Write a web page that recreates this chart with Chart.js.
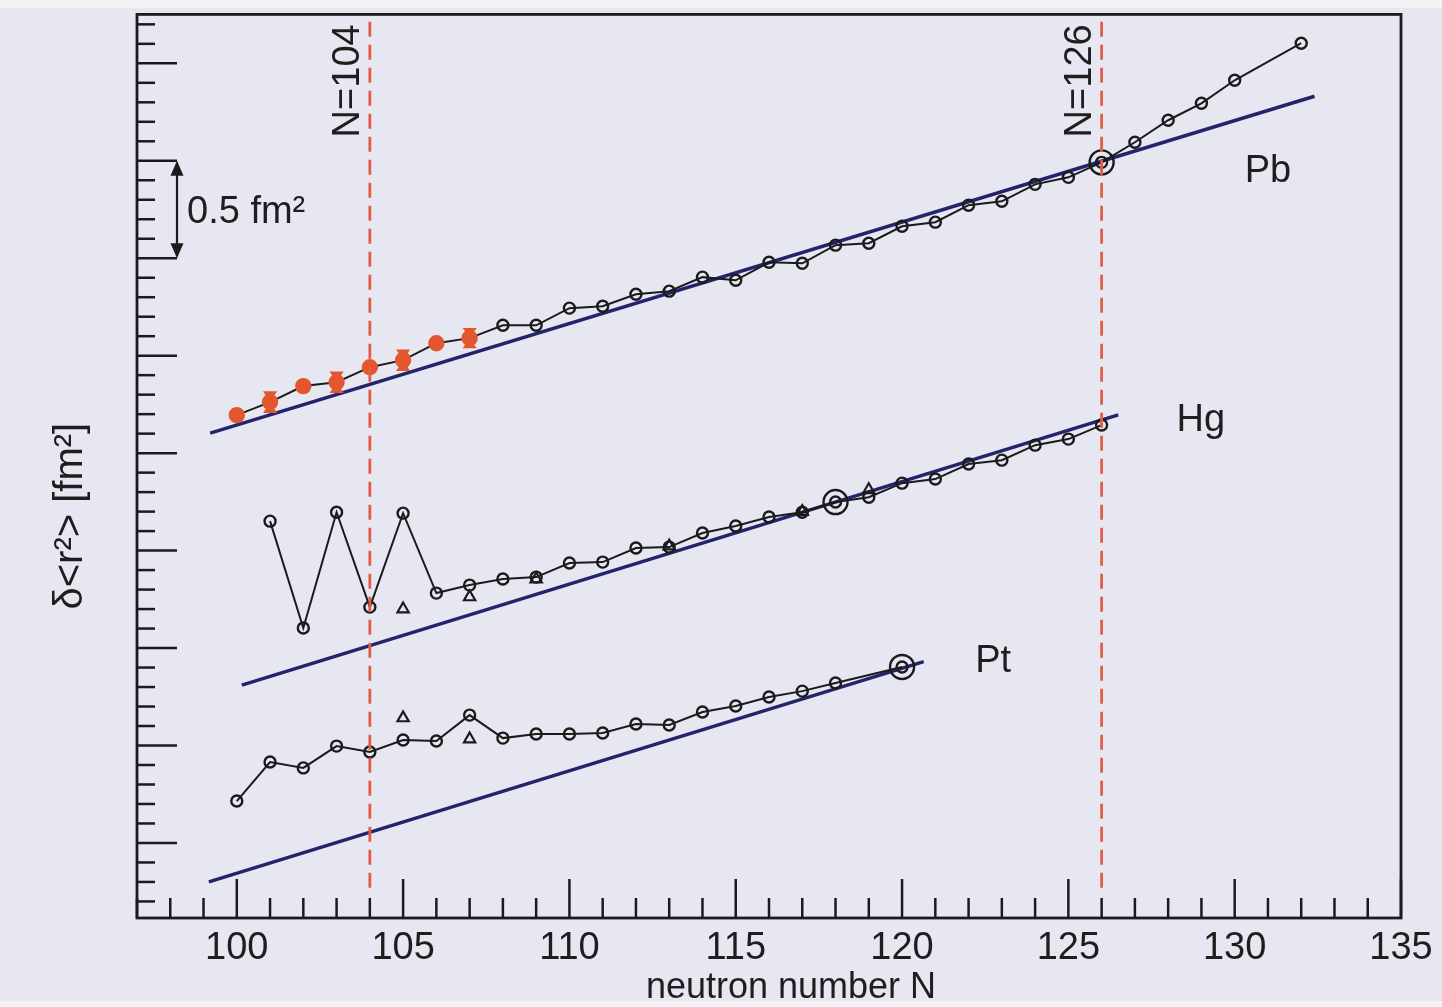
<!DOCTYPE html>
<html>
<head>
<meta charset="utf-8">
<script src="https://cdn.jsdelivr.net/npm/chart.js@4.4.1/dist/chart.umd.min.js"></script>
<style>
html,body{margin:0;padding:0;background:#e7e7f1;}
canvas{display:block;}
</style>
</head>
<body>
<canvas id="c" width="1442" height="1007"></canvas>
<script>
// ---------------- data (δ<r²>, fm², arbitrary vertical offsets per element) ----------------
const xTickValues = [100, 105, 110, 115, 120, 125, 130, 135];

const pbN = [100,101,102,103,104,105,106,107,108,109,110,111,112,113,114,115,116,117,118,119,120,121,122,123,124,125,126,127,128,129,130,132];
const pbR = [2.195,2.262,2.344,2.364,2.441,2.477,2.564,2.590,2.656,2.656,2.744,2.754,2.815,2.831,2.903,2.887,2.979,2.974,3.067,3.077,3.164,3.185,3.272,3.292,3.379,3.415,3.492,3.595,3.708,3.795,3.913,4.103];
const pbNewN = [100,101,102,103,104,105,106,107];
const pbErrN = [101,103,105,107];
const pbErr  = [0.056,0.055,0.055,0.052];

const hgN = [101,102,103,104,105,106,107,108,109,110,111,112,113,114,115,116,117,118,119,120,121,122,123,124,125,126];
const hgR = [1.651,1.103,1.697,1.210,1.692,1.282,1.323,1.354,1.364,1.436,1.441,1.513,1.518,1.590,1.626,1.672,1.697,1.749,1.774,1.846,1.867,1.944,1.964,2.041,2.072,2.144];
const hgTriN = [105,107,109,113,117,119];
const hgTriR = [1.200,1.262,1.354,1.523,1.700,1.812];

const ptN = [100,101,102,103,104,105,106,107,108,109,110,111,112,113,114,115,116,117,118,120];
const ptR = [0.215,0.415,0.385,0.497,0.467,0.528,0.523,0.656,0.538,0.559,0.559,0.564,0.610,0.605,0.672,0.703,0.749,0.779,0.821,0.903];
const ptTriN = [105,107];
const ptTriR = [0.641,0.533];

const fitPbN = [99.2, 132.4];   const fitPbR = [2.103, 3.831];
const fitHgN = [100.15, 126.5]; const fitHgR = [0.810, 2.196];
const fitPtN = [99.16, 120.65]; const fitPtR = [-0.200, 0.930];

const magicN = [104, 126];
const refPbN = 126, refHgN = 118, refPtN = 120;
const elementLabels = ['Pb', 'Hg', 'Pt'];

// ---------------- styling ----------------
const BLACK = '#1b1b1b', NAVY = '#24236d', ORANGE = '#e4572e', RED = '#e25d47';
const FONT = '"Liberation Sans", Arial, sans-serif';

const pts = (N, R) => N.map((n, i) => ({x: n, y: R[i]}));
const valAt = (N, R, n) => R[N.indexOf(n)];
const isNewPb = c => c.raw && pbNewN.includes(c.raw.x);

const fitDs = (N, R) => ({data: pts(N, R), showLine: true, borderColor: NAVY, borderWidth: 3.5,
  pointRadius: 0, order: 4});
const serDs = (N, R, isNew) => ({data: pts(N, R), showLine: true, borderColor: BLACK, borderWidth: 2,
  pointRadius: c => (isNew && isNew(c)) ? 7 : 5.5,
  pointBorderWidth: 2.4,
  pointBorderColor: c => (isNew && isNew(c)) ? ORANGE : BLACK,
  pointBackgroundColor: c => (isNew && isNew(c)) ? ORANGE : 'rgba(0,0,0,0)',
  order: 3});
const triDs = (N, R) => ({data: pts(N, R), showLine: false, pointStyle: 'triangle', pointRadius: 6.5,
  pointBorderWidth: 2.2, pointBorderColor: BLACK, pointBackgroundColor: 'rgba(0,0,0,0)', order: 2});

const datasets = [
  fitDs(fitPbN, fitPbR), fitDs(fitHgN, fitHgR), fitDs(fitPtN, fitPtR),
  serDs(pbN, pbR, isNewPb), serDs(hgN, hgR), serDs(ptN, ptR),
  triDs(hgTriN, hgTriR), triDs(ptTriN, ptTriR),
  {data: [{x: refPbN, y: valAt(pbN, pbR, refPbN)}, {x: refHgN, y: valAt(hgN, hgR, refHgN)}, {x: refPtN, y: valAt(ptN, ptR, refPtN)}],
   showLine: false, pointRadius: 12, pointBorderWidth: 2.4, pointBorderColor: BLACK,
   pointBackgroundColor: 'rgba(0,0,0,0)', order: 1},
  ...magicN.map(n => ({data: [{x: n, y: -0.23}, {x: n, y: 4.26}], showLine: true, borderColor: RED,
    borderWidth: 2.8, borderDash: [15, 8], pointRadius: 0, order: 0}))
];

// ---------------- decorations plugin ----------------
const decor = {
  id: 'decor',
  beforeDraw(chart) {
    const c = chart.ctx;
    c.save();
    c.fillStyle = '#e7e7f1'; c.fillRect(0, 0, chart.width, chart.height);
    c.fillStyle = '#f3f3f7'; c.fillRect(0, 0, chart.width, 8);
    c.fillRect(0, 1001, chart.width, 6);
    c.restore();
  },
  afterDatasetsDraw(chart) {
    const c = chart.ctx, xs = chart.scales.x, ys = chart.scales.y;
    // error bars (hourglass) on orange Pb points
    c.save();
    c.fillStyle = ORANGE;
    pbErrN.forEach((n, i) => {
      const v = valAt(pbN, pbR, n);
      const px = xs.getPixelForValue(n), pm = ys.getPixelForValue(v);
      const pt = ys.getPixelForValue(v + pbErr[i]), pb = ys.getPixelForValue(v - pbErr[i]);
      c.beginPath(); c.moveTo(px - 7, pt); c.lineTo(px + 7, pt); c.lineTo(px, pm); c.closePath(); c.fill();
      c.beginPath(); c.moveTo(px - 7, pb); c.lineTo(px + 7, pb); c.lineTo(px, pm); c.closePath(); c.fill();
    });
    c.restore();
  },
  afterDraw(chart) {
    const c = chart.ctx, xs = chart.scales.x, ys = chart.scales.y, a = chart.chartArea;
    c.save();
    c.strokeStyle = BLACK; c.lineWidth = 2.5; c.lineCap = 'butt';
    // inward tick marks, x
    for (let n = Math.ceil(xs.min); n <= xs.max; n++) {
      const px = xs.getPixelForValue(n), len = n % 5 === 0 ? 39 : 20;
      c.beginPath(); c.moveTo(px, a.bottom); c.lineTo(px, a.bottom - len); c.stroke();
    }
    // inward tick marks, y (0.1 fm² minor, 0.5 fm² major)
    for (let k = Math.ceil(ys.min * 10); k <= Math.floor(ys.max * 10); k++) {
      const py = ys.getPixelForValue(k / 10), len = k % 5 === 0 ? 40 : 18;
      c.beginPath(); c.moveTo(a.left, py); c.lineTo(a.left + len, py); c.stroke();
    }
    // frame
    c.lineWidth = 2.8;
    c.strokeRect(a.left, a.top, a.right - a.left, a.bottom - a.top);

    // 0.5 fm² scale arrow
    const ax = a.left + 40, y1 = ys.getPixelForValue(3.5), y2 = ys.getPixelForValue(3.0);
    c.lineWidth = 2.2;
    c.beginPath(); c.moveTo(ax, y1 + 10); c.lineTo(ax, y2 - 10); c.stroke();
    c.fillStyle = BLACK;
    c.beginPath(); c.moveTo(ax, y1); c.lineTo(ax - 6.5, y1 + 15); c.lineTo(ax + 6.5, y1 + 15); c.closePath(); c.fill();
    c.beginPath(); c.moveTo(ax, y2); c.lineTo(ax - 6.5, y2 - 15); c.lineTo(ax + 6.5, y2 - 15); c.closePath(); c.fill();

    c.fillStyle = '#1e1e1e';
    c.font = '38px ' + FONT;
    c.textBaseline = 'alphabetic';
    c.textAlign = 'left';
    c.fillText('0.5 fm²', ax + 10, ys.getPixelForValue(3.25) + 13);

    // element labels
    c.textAlign = 'center';
    c.fillText(elementLabels[0], xs.getPixelForValue(131.0), ys.getPixelForValue(3.39));
    c.fillText(elementLabels[1], xs.getPixelForValue(128.98), ys.getPixelForValue(2.113));
    c.fillText(elementLabels[2], xs.getPixelForValue(122.74), ys.getPixelForValue(0.877));

    // magic number labels (rotated)
    magicN.forEach(n => {
      c.save();
      c.translate(xs.getPixelForValue(n) - 11, ys.getPixelForValue(3.91));
      c.rotate(-Math.PI / 2);
      c.textAlign = 'center';
      c.fillText('N=' + n, 0, 0);
      c.restore();
    });

    // axis titles
    c.font = '36px ' + FONT;
    c.textAlign = 'center';
    c.fillText('neutron number N', (a.left + a.right) / 2 + 22, 998);
    c.save();
    c.font = '40px ' + FONT;
    c.translate(82, (a.top + a.bottom) / 2 + 50);
    c.rotate(-Math.PI / 2);
    c.fillText('δ<r²> [fm²]', 0, 0);
    c.restore();
    c.restore();
  }
};

new Chart(document.getElementById('c'), {
  type: 'scatter',
  data: {datasets},
  plugins: [decor],
  options: {
    responsive: false,
    animation: false,
    events: [],
    layout: {padding: {left: 0, right: 41, top: 14, bottom: 0}},
    plugins: {legend: {display: false}, tooltip: {enabled: false}},
    scales: {
      x: {
        type: 'linear', min: 97, max: 135,
        afterBuildTicks: s => { s.ticks = xTickValues.map(v => ({value: v})); },
        afterFit: s => { s.height = 89; },
        grid: {display: false}, border: {display: false},
        ticks: {font: {family: FONT, size: 38}, color: '#1e1e1e', padding: 0, maxRotation: 0, autoSkip: false}
      },
      y: {
        type: 'linear', min: -0.385, max: 4.251,
        afterFit: s => { s.width = 137; },
        grid: {display: false}, border: {display: false},
        ticks: {display: false}
      }
    }
  }
});
</script>
</body>
</html>
